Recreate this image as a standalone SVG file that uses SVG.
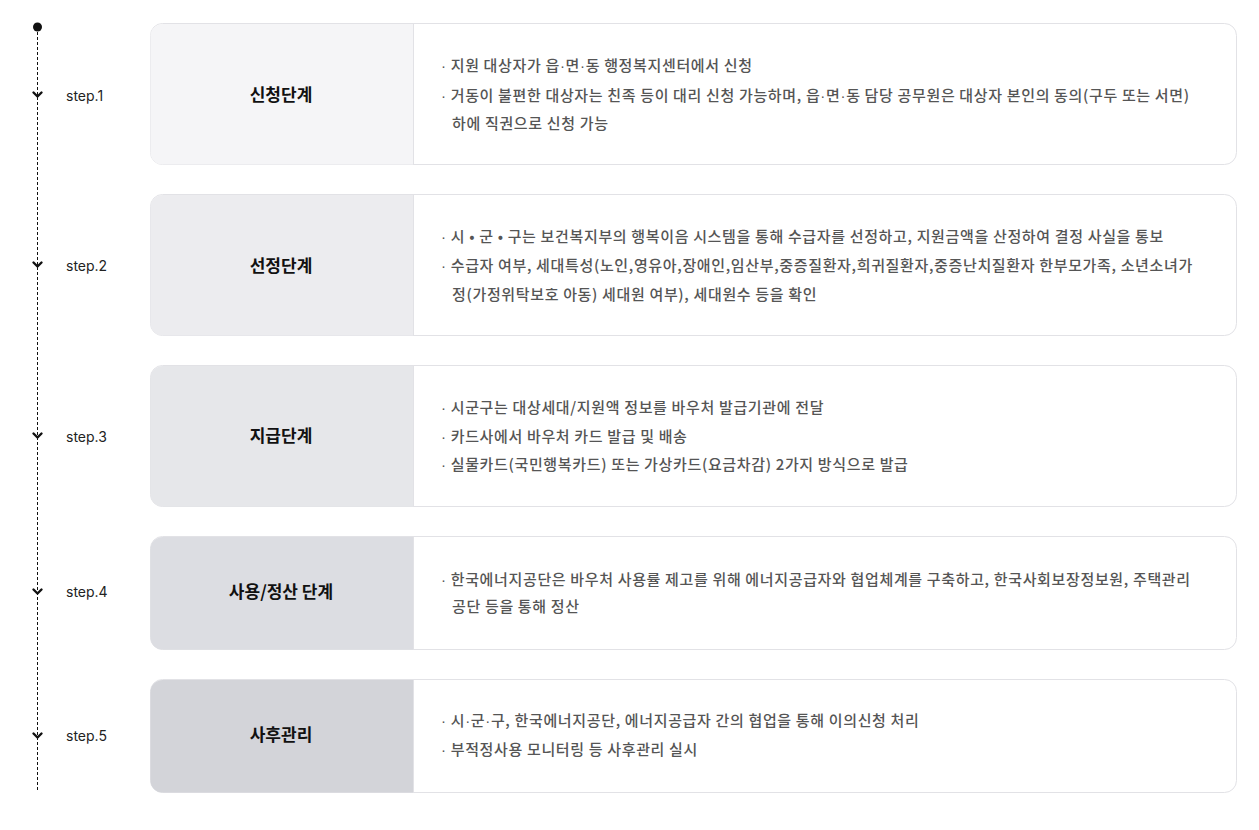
<svg xmlns="http://www.w3.org/2000/svg" width="1259" height="830" viewBox="0 0 1259 830">
<style>
.card{fill:#fff;stroke:#e2e2e6;stroke-width:1}
.title{font-family:"Noto Sans CJK KR","Noto Sans",sans-serif;font-size:17px;font-weight:700;fill:#111;text-anchor:middle}
.body{font-family:"Noto Sans CJK KR","Noto Sans",sans-serif;font-size:15px;font-weight:500;fill:#555;letter-spacing:0.65px}
.d{font-family:"Liberation Sans",sans-serif}
.step{font-family:Inter,Roboto,"Noto Sans",sans-serif;font-size:14px;fill:#222}
.chev{fill:none;stroke:#111;stroke-width:2.4;stroke-linecap:round;stroke-linejoin:round}
.div{stroke:#e2e2e6;stroke-width:1}
</style>
<rect width="1259" height="830" fill="#fff"/>
<g id="timeline">
<line x1="37.5" y1="27" x2="37.5" y2="792" stroke="#111" stroke-width="1" stroke-dasharray="3,2"/>
<circle cx="37.5" cy="27" r="4.5" fill="#111"/>
<polyline class="chev" points="33.5,92.5 37.5,96.5 41.5,92.5"/>
<polyline class="chev" points="33.5,262.5 37.5,266.5 41.5,262.5"/>
<polyline class="chev" points="33.5,433.5 37.5,437.5 41.5,433.5"/>
<polyline class="chev" points="33.5,589.5 37.5,593.5 41.5,589.5"/>
<polyline class="chev" points="33.5,733.5 37.5,737.5 41.5,733.5"/>
<text class="step" x="66" y="101">step.1</text>
<text class="step" x="66" y="271">step.2</text>
<text class="step" x="66" y="442">step.3</text>
<text class="step" x="66" y="597">step.4</text>
<text class="step" x="66" y="741">step.5</text>
</g>
<g id="step1">
<rect class="card" x="150.5" y="23.5" width="1086" height="141" rx="12"/>
<path d="M413,24 H162.5 A12,12 0 0 0 150.5,36 V152.5 A12,12 0 0 0 162.5,164.5 H413 Z" fill="#f5f5f7"/>
<line class="div" x1="413.5" y1="24" x2="413.5" y2="164"/>
<text class="title" x="281" y="101">신청단계</text>
<text class="body" x="441" y="71"><tspan class="d">·</tspan> 지원 대상자가 읍<tspan class="d">·</tspan>면<tspan class="d">·</tspan>동 행정복지센터에서 신청</text>
<text class="body" x="441" y="101"><tspan class="d">·</tspan> 거동이 불편한 대상자는 친족 등이 대리 신청 가능하며, 읍<tspan class="d">·</tspan>면<tspan class="d">·</tspan>동 담당 공무원은 대상자 본인의 동의(구두 또는 서면)</text>
<text class="body" x="452" y="129">하에 직권으로 신청 가능</text>
</g>
<g id="step2">
<rect class="card" x="150.5" y="194.5" width="1086" height="141" rx="12"/>
<path d="M413,195 H162.5 A12,12 0 0 0 150.5,207 V323.5 A12,12 0 0 0 162.5,335.5 H413 Z" fill="#ececef"/>
<line class="div" x1="413.5" y1="195" x2="413.5" y2="335"/>
<text class="title" x="281" y="272">선정단계</text>
<text class="body" x="441" y="242"><tspan class="d">·</tspan> 시 • 군 • 구는 보건복지부의 행복이음 시스템을 통해 수급자를 선정하고, 지원금액을 산정하여 결정 사실을 통보</text>
<text class="body" x="441" y="271"><tspan class="d">·</tspan> 수급자 여부, 세대특성(노인,영유아,장애인,임산부,중증질환자,희귀질환자,중증난치질환자 한부모가족, 소년소녀가</text>
<text class="body" x="452" y="300">정(가정위탁보호 아동) 세대원 여부), 세대원수 등을 확인</text>
</g>
<g id="step3">
<rect class="card" x="150.5" y="365.5" width="1086" height="141" rx="12"/>
<path d="M413,366 H162.5 A12,12 0 0 0 150.5,378 V494.5 A12,12 0 0 0 162.5,506.5 H413 Z" fill="#e6e7ea"/>
<line class="div" x1="413.5" y1="366" x2="413.5" y2="506"/>
<text class="title" x="281" y="442">지급단계</text>
<text class="body" x="441" y="413"><tspan class="d">·</tspan> 시군구는 대상세대/지원액 정보를 바우처 발급기관에 전달</text>
<text class="body" x="441" y="442"><tspan class="d">·</tspan> 카드사에서 바우처 카드 발급 및 배송</text>
<text class="body" x="441" y="470"><tspan class="d">·</tspan> 실물카드(국민행복카드) 또는 가상카드(요금차감) 2가지 방식으로 발급</text>
</g>
<g id="step4">
<rect class="card" x="150.5" y="536.5" width="1086" height="113" rx="12"/>
<path d="M413,537 H162.5 A12,12 0 0 0 150.5,549 V637.5 A12,12 0 0 0 162.5,649.5 H413 Z" fill="#dcdde2"/>
<line class="div" x1="413.5" y1="537" x2="413.5" y2="649"/>
<text class="title" x="281" y="598">사용/정산 단계</text>
<text class="body" x="441" y="585"><tspan class="d">·</tspan> 한국에너지공단은 바우처 사용률 제고를 위해 에너지공급자와 협업체계를 구축하고, 한국사회보장정보원, 주택관리</text>
<text class="body" x="452" y="612">공단 등을 통해 정산</text>
</g>
<g id="step5">
<rect class="card" x="150.5" y="679.5" width="1086" height="113" rx="12"/>
<path d="M413,680 H162.5 A12,12 0 0 0 150.5,692 V780.5 A12,12 0 0 0 162.5,792.5 H413 Z" fill="#d3d4d9"/>
<line class="div" x1="413.5" y1="680" x2="413.5" y2="792"/>
<text class="title" x="281" y="741">사후관리</text>
<text class="body" x="441" y="726"><tspan class="d">·</tspan> 시<tspan class="d">·</tspan>군<tspan class="d">·</tspan>구, 한국에너지공단, 에너지공급자 간의 협업을 통해 이의신청 처리</text>
<text class="body" x="441" y="755"><tspan class="d">·</tspan> 부적정사용 모니터링 등 사후관리 실시</text>
</g>
</svg>
